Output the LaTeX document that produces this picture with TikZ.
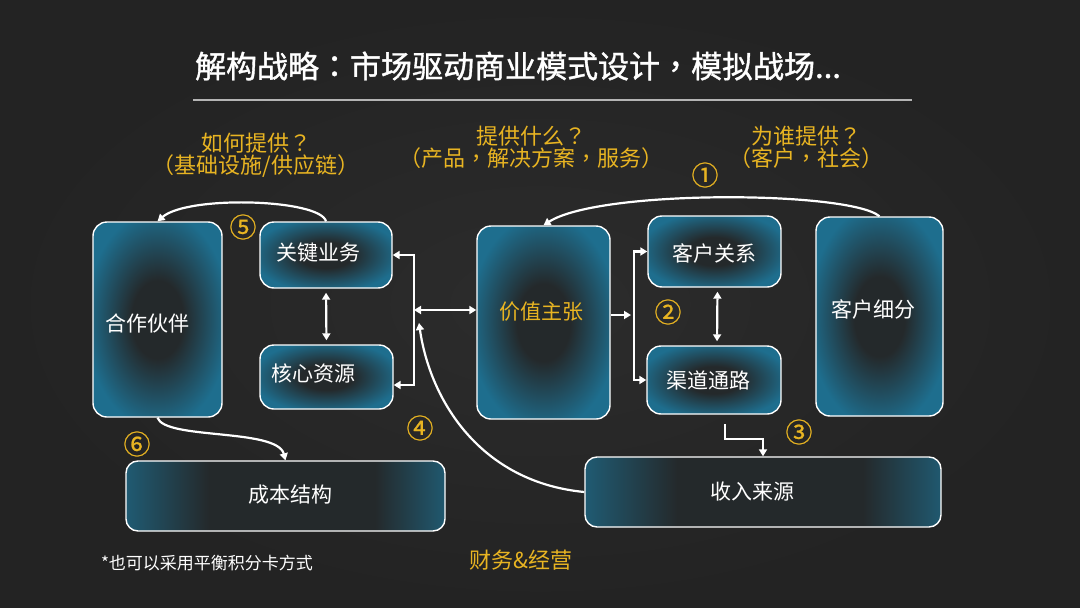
\documentclass[tikz,border=0pt]{standalone}
\usepackage{fontspec}
\setmainfont{Noto Sans CJK SC}
\newfontfamily\tcfont{Noto Sans CJK TC}
\newfontfamily\tcheavy[FakeBold=1.2]{Noto Sans CJK TC}
\newfontfamily\scmed[FakeBold=0.8]{Noto Sans CJK SC}
\usetikzlibrary{arrows.meta,calc}
\definecolor{bgc}{HTML}{2C2C2C}
\definecolor{bgo}{HTML}{232323}
\definecolor{tealc}{HTML}{1E6E8E}
\definecolor{darkc}{HTML}{24292B}
\definecolor{goldc}{HTML}{E8B422}
\definecolor{rulec}{HTML}{B4B4B4}
\newcommand\myfs[1]{\fontsize{#1}{#1}\selectfont}
\pgfdeclareradialshading{tallshade}{\pgfpoint{0bp}{0bp}}{color(0bp)=(darkc); color(10bp)=(darkc); color(28bp)=(tealc); color(50bp)=(tealc)}
\pgfdeclarehorizontalshading{wideshade}{100bp}{color(0bp)=(tealc); color(20bp)=(tealc); color(38bp)=(darkc); color(64bp)=(darkc); color(80bp)=(tealc); color(100bp)=(tealc)}
\tikzset{
  box/.style={draw=white, line width=1.4pt, rounded corners=14pt, shading=tallshade, inner sep=0pt},
  widebox/.style={draw=white, line width=1.4pt, rounded corners=12pt, shading=wideshade, inner sep=0pt},
  boxtext/.style={text=white, font=\myfs{21}, inner sep=0pt},
  arr/.style={draw=white, line width=2.2pt, -{Triangle[length=7pt,width=8pt]}},
  darr/.style={draw=white, line width=2.2pt, {Triangle[length=7pt,width=8pt]}-{Triangle[length=7pt,width=8pt]}},
  gold/.style={text=goldc, font=\tcfont\myfs{22}, align=center, inner sep=0pt},
  num/.style={text=goldc, font=\scmed\myfs{27}, inner sep=0pt}
}
\begin{document}
\begin{tikzpicture}[x=1pt,y=-1pt]
\useasboundingbox (0,0) rectangle (1080,608);
\shade[inner color=bgc, outer color=bgo] (0,0) rectangle (1080,608);
% title
\node[text=white, font=\tcheavy\myfs{31}, inner sep=0pt] (title) at (518,66) {解构战略：市场驱动商业模式设计，模拟战场...};
\draw[rulec, line width=1.6pt] (193,100) -- (912,100);
% questions
\node[gold] (q1) at (256,155) {如何提供？\\（基础设施/供应链）};
\node[gold] (q2) at (531,147) {提供什么？\\（产品，解决方案，服务）};
\node[gold] (q3) at (806,147) {为谁提供？\\（客户，社会）};
% boxes
\node[box, minimum width=129pt, minimum height=195pt] (partner) at (157.5,319.5) {};
\node[box, minimum width=132pt, minimum height=66pt] (key) at (326,255) {};
\node[box, minimum width=133pt, minimum height=64pt] (res) at (326.5,377) {};
\node[box, minimum width=133pt, minimum height=193pt] (vp) at (543.5,322.5) {};
\node[box, minimum width=133pt, minimum height=71pt] (cr) at (714.5,251.5) {};
\node[box, minimum width=134pt, minimum height=68pt] (ch) at (714,380) {};
\node[box, minimum width=127pt, minimum height=199pt] (cs) at (879.5,316.5) {};
\node[widebox, minimum width=319pt, minimum height=70pt] (cost) at (285.5,496) {};
\node[widebox, minimum width=356pt, minimum height=70pt] (rev) at (763,492) {};
% box texts
\node[boxtext] (partner-t) at (147,323) {合作伙伴};
\node[boxtext] (key-t) at (318,253) {关键业务};
\node[boxtext] (res-t) at (313,373) {核心资源};
\node[boxtext, text=goldc] (vp-t) at (541,312) {价值主张};
\node[boxtext] (cr-t) at (714,253) {客户关系};
\node[boxtext] (ch-t) at (708,380) {渠道通路};
\node[boxtext] (cs-t) at (873,309) {客户细分};
\node[boxtext] (cost-t) at (290,495) {成本结构};
\node[boxtext] (rev-t) at (752,492) {收入来源};
% circled numbers
\node[num] (n1) at (705,175) {①};
\node[num] (n2) at (668,312) {②};
\node[num] (n3) at (799,432) {③};
\node[num] (n4) at (420,428) {④};
\node[num] (n5) at (243,227) {⑤};
\node[num] (n6) at (137,444) {⑥};
% bottom texts
\node[text=white, font=\myfs{17}, inner sep=0pt] (note) at (207,563) {*也可以采用平衡积分卡方式};
\node[text=goldc, font=\myfs{22}, inner sep=0pt] (fin) at (521,560) {财务\&经营};
% connectors
\draw[arr] (key.north) .. controls (320,199) and (188,195) .. (partner.north);
\draw[arr] (cs.north) .. controls (850,191) and (600,189) .. (vp.north);
\coordinate (jl) at (414,310);
\draw[arr] (jl) |- (key.east);
\draw[arr] (jl) |- ([yshift=-8pt]res.east);
\draw[darr] (jl) -- (vp.west |- jl);
\draw[darr, shorten <=4pt, shorten >=4pt] (key.south) -- (res.north);
\coordinate (jr) at (634,315);
\draw[arr] (vp.east |- jr) -- ([xshift=-3pt]jr);
\draw[arr] (jr) |- (cr.west);
\draw[arr] (jr) |- (ch.west);
\draw[darr, shorten <=4pt, shorten >=4pt] ([xshift=3pt]cr.south) -- ([xshift=3pt]ch.north);
\coordinate (c3) at (725,424);
\coordinate (c3b) at (763,439);
\draw[arr] (c3) |- (c3b) -- (rev.north -| c3b);
\coordinate (j4) at (419,323);
\draw[arr] (rev.west) .. controls (480,482) and (430,400) .. (j4);
\draw[arr] (partner.south) .. controls (165,440) and (277,428) .. (cost.north);
\end{tikzpicture}
\end{document}
